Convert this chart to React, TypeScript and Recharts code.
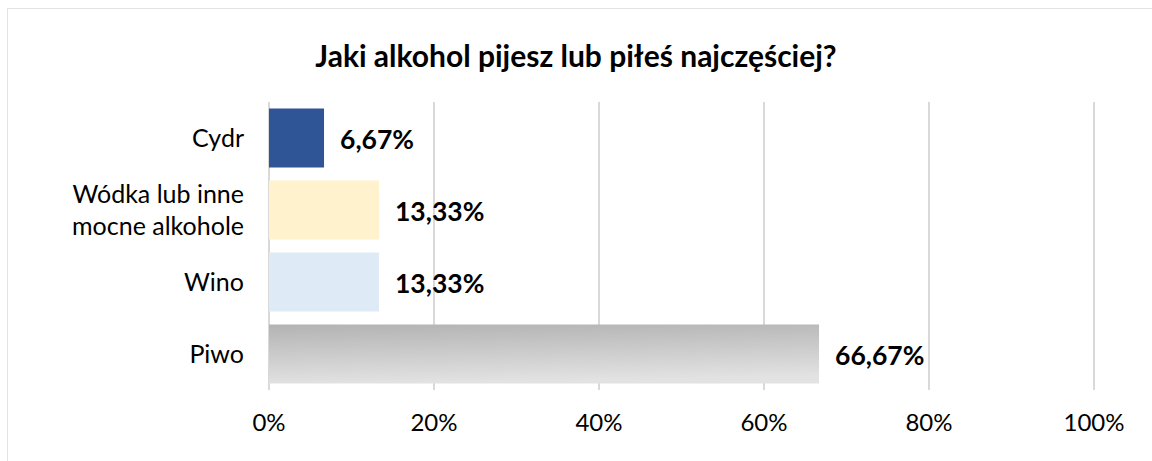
import { BarChart, Bar, XAxis, YAxis, CartesianGrid, Cell, LabelList } from "recharts";

const categories = ["Cydr", "Wódka lub inne mocne alkohole", "Wino", "Piwo"];
const shares = [6.67, 13.33, 13.33, 66.67];
const xTicks = [0, 20, 40, 60, 80, 100];
const barColors = ["#2F5597", "#FFF2CC", "#DEEBF7", "url(#piwoGrad)"];

// category labels split into lines like in the original
const labelLines: Record<string, string[]> = {
  "Wódka lub inne mocne alkohole": ["Wódka lub inne", "mocne alkohole"],
};

const data = categories.map((name, i) => ({ name, value: shares[i] }));

const FONT = "Lato, 'Open Sans', sans-serif";

const CategoryTick = (props: any) => {
  const { x, y, payload } = props;
  const lines = labelLines[payload.value] || [payload.value];
  const step = 32;
  const start = -((lines.length - 1) * step) / 2;
  return (
    <text x={x} y={y} textAnchor="end" fill="#000" fontSize={25} fontFamily={FONT}>
      {lines.map((l, i) => (
        <tspan key={i} x={x} y={y + start + i * step} dy="0.35em">
          {l}
        </tspan>
      ))}
    </text>
  );
};

const ValueLabel = (props: any) => {
  const { x, y, width, height, value } = props;
  return (
    <text
      x={x + width + 16}
      y={y + height / 2 + 1}
      dy="0.36em"
      fontSize={26.5}
      fontWeight="bold"
      fontFamily={FONT}
      fill="#000"
    >
      {value.toFixed(2).replace(".", ",")}%
    </text>
  );
};

export default function App() {
  return (
    <div style={{ position: "absolute", left: 0, top: 0, width: 1152, height: 461, background: "#fff" }}>
      <div
        style={{
          position: "absolute",
          left: 7,
          top: 8,
          right: 0,
          bottom: 0,
          borderLeft: "1px solid #E3E3E3",
          borderTop: "1px solid #E3E3E3",
        }}
      />
      <div
        style={{
          position: "absolute",
          left: 0,
          width: 1152,
          top: 37,
          textAlign: "center",
          fontFamily: FONT,
          fontWeight: "bold",
          fontSize: 30,
          lineHeight: "36px",
          color: "#000",
        }}
      >
        Jaki alkohol pijesz lub piłeś najczęściej?
      </div>
      <div style={{ position: "absolute", left: 0, top: 0 }}>
        <BarChart
          width={1152}
          height={461}
          data={data}
          layout="vertical"
          margin={{ top: 102, right: 58, bottom: 41, left: 0 }}
          barCategoryGap="9%"
        >
          <defs>
            <linearGradient id="piwoGrad" x1="0" y1="0" x2="0.15" y2="1">
              <stop offset="0%" stopColor="#B3B3B3" />
              <stop offset="100%" stopColor="#E2E2E2" />
            </linearGradient>
          </defs>
          <CartesianGrid horizontal={false} stroke="#D9D9D9" strokeWidth={2} />
          <XAxis
            type="number"
            domain={[0, 100]}
            ticks={xTicks}
            tickFormatter={(v) => `${v}%`}
            axisLine={false}
            tickLine={false}
            tickMargin={18}
            tick={{ fill: "#000", fontSize: 24, fontFamily: FONT }}
            interval={0}
          />
          <YAxis
            type="category"
            dataKey="name"
            width={269}
            axisLine={false}
            tickLine={false}
            tickSize={0}
            tickMargin={25}
            tick={<CategoryTick />}
            interval={0}
          />
          <Bar dataKey="value" isAnimationActive={false}>
            {data.map((d, i) => (
              <Cell key={d.name} fill={barColors[i]} />
            ))}
            <LabelList dataKey="value" content={<ValueLabel />} />
          </Bar>
        </BarChart>
      </div>
    </div>
  );
}
